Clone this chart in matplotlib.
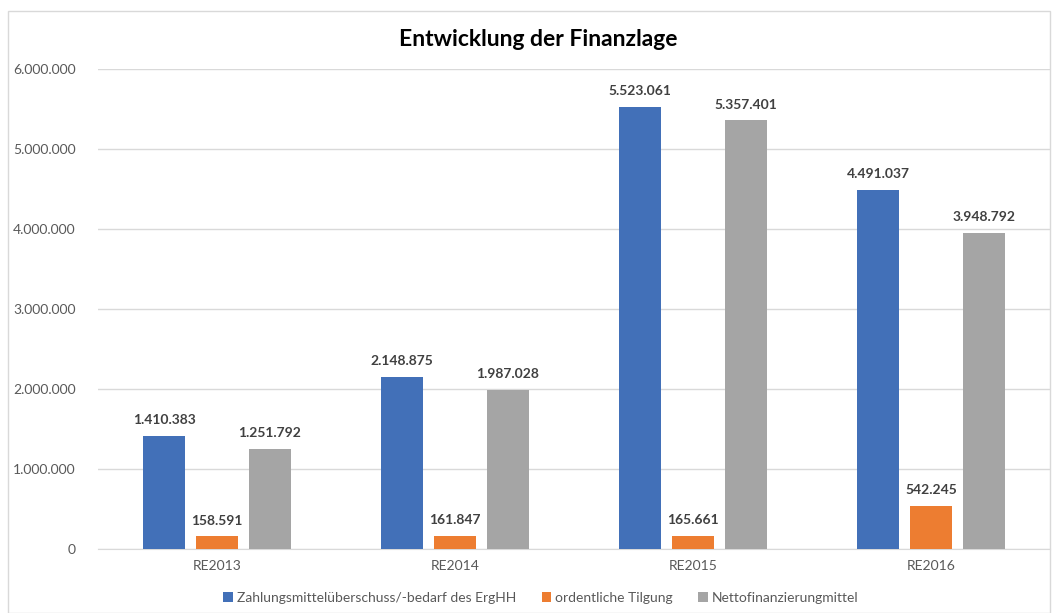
import matplotlib
matplotlib.use("Agg")
import matplotlib.pyplot as plt
from matplotlib.patches import Rectangle
import numpy as np

categories = ["RE2013", "RE2014", "RE2015", "RE2016"]
series_names = ["Zahlungsmittelüberschuss/-bedarf des ErgHH", "ordentliche Tilgung", "Nettofinanzierungmittel"]
zahlungsmittel = [1410383, 2148875, 5523061, 4491037]
tilgung = [158591, 161847, 165661, 542245]
netto = [1251792, 1987028, 5357401, 3948792]
colors = ["#4270B8", "#ED7D31", "#A5A5A5"]
yticks = [0, 1000000, 2000000, 3000000, 4000000, 5000000, 6000000]

def fmt(v):
    return f"{v:,.0f}".replace(",", ".")

plt.rcParams['font.family'] = ['Lato', 'DejaVu Sans']
fig = plt.figure(figsize=(10.52, 6.13), dpi=100)
fig.patches.append(Rectangle((8/1052, 0), 1042/1052, 1 - 11/613, transform=fig.transFigure,
                             fill=False, edgecolor="#D9D9D9", linewidth=1))
ax = fig.add_axes([98/1052, 1 - 549/613, 952/1052, 480/613])

x = np.arange(len(categories))
w = 0.176
gap = 0.046
offs = [-(w + gap), 0, (w + gap)]
for vals, off, c, name in zip([zahlungsmittel, tilgung, netto], offs, colors, series_names):
    bars = ax.bar(x + off, vals, width=w, color=c, label=name, zorder=3)
    for b, v in zip(bars, vals):
        ax.annotate(fmt(v), (b.get_x() + b.get_width() / 2, v), xytext=(0, 7),
                    textcoords="offset points", ha="center", va="bottom",
                    fontsize=10, fontweight="bold", color="#404040")

ax.set_xlim(-0.5, len(categories) - 0.5)
ax.set_ylim(0, 6000000)
ax.set_yticks(yticks)
ax.set_yticklabels([fmt(v) for v in yticks])
ax.set_xticks(x)
ax.set_xticklabels(categories)
ax.tick_params(axis="both", length=0, labelsize=10, colors="#595959", pad=8)
ax.tick_params(axis="y", pad=16)
ax.grid(axis="y", color="#D9D9D9", linewidth=1, zorder=0)
for s in ["top", "right", "left"]:
    ax.spines[s].set_visible(False)
ax.spines["bottom"].set_color("#D9D9D9")

fig.text(538/1052, 1 - 40/613, "Entwicklung der Finanzlage", ha="center", va="center",
         fontsize=16.5, fontweight="bold", color="#000000")

fig.legend(loc="center", bbox_to_anchor=(541/1052, 1 - 598/613), ncol=3, frameon=False,
           fontsize=10, handlelength=0.7, handleheight=0.7, handletextpad=0.3, columnspacing=1.8,
           labelcolor="#595959")

fig.savefig("out.png", dpi=100)
